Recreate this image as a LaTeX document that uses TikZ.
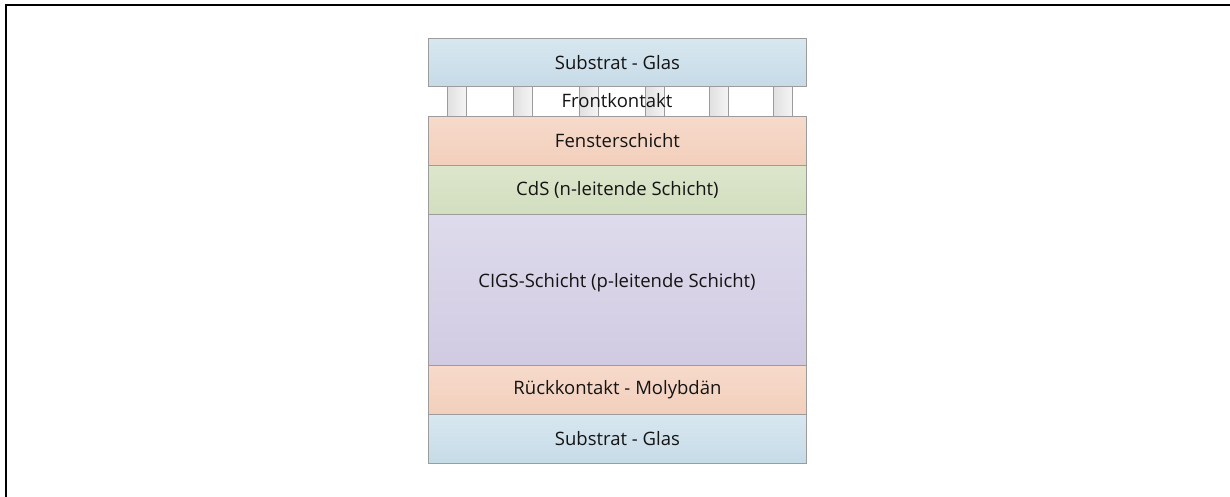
\documentclass[tikz,border=0pt]{standalone}
\usepackage{fontspec}
\setmainfont{Open Sans}
\definecolor{glassTop}{HTML}{D8E7F0}
\definecolor{glassBot}{HTML}{C6DBE7}
\definecolor{peachTop}{HTML}{F7DACB}
\definecolor{peachBot}{HTML}{F2CFBC}
\definecolor{greenTop}{HTML}{DCE6CC}
\definecolor{greenBot}{HTML}{D2DEBF}
\definecolor{lilacTop}{HTML}{DEDBEC}
\definecolor{lilacBot}{HTML}{D1CBE2}
\definecolor{edge}{HTML}{9C9C9C}
\begin{document}
\begin{tikzpicture}[x=1pt,y=-1pt,
  lbl/.style={font=\fontsize{18.5}{22}\selectfont, text=black!92},
  layer/.style={draw=edge, line width=0.9pt, minimum width=378pt, anchor=north west,
    inner sep=0pt, lbl},
  glass/.style={layer, top color=glassTop, bottom color=glassBot},
  peach/.style={layer, top color=peachTop, bottom color=peachBot},
  green/.style={layer, top color=greenTop, bottom color=greenBot},
  lilac/.style={layer, top color=lilacTop, bottom color=lilacBot},
  contact/.style={draw=edge, line width=0.9pt, minimum width=19pt, minimum height=30pt,
    anchor=north west, inner sep=0pt, left color=black!12, right color=black!4},
  frame/.style={line width=2.4pt, black}]
\useasboundingbox (0,0) rectangle (1230,497);
% outer frame (top and left edges only)
\coordinate (fTL) at (6,5);
\coordinate (fTR) at (1230,5);
\coordinate (fBL) at (6,497);
\draw[frame] (fTR) -- (fTL) -- (fBL);
% front contact fingers between glass and window layer
\foreach \cx [count=\i] in {447,513,579,645,709,773}
  \node[contact] (c\i) at (\cx,86) {};
\node[lbl] (front) at (617,101) {Frontkontakt};
% layer stack
\node[glass, minimum height=48pt] (sub1) at (428,38) {Substrat - Glas};
\node[peach, minimum height=49pt] (win) at (428,116) {Fensterschicht};
\node[green, minimum height=49pt] (cds) at (428,165) {CdS (n-leitende Schicht)};
\node[lilac, minimum height=151pt] (cigs) at (428,214) {};
\node[lbl] (cigsT) at (617,283) {CIGS-Schicht (p-leitende Schicht)};
\node[peach, minimum height=49pt] (mo) at (428,365) {Rückkontakt - Molybdän};
\node[glass, minimum height=49pt] (sub2) at (428,414) {Substrat - Glas};
\end{tikzpicture}
\end{document}
